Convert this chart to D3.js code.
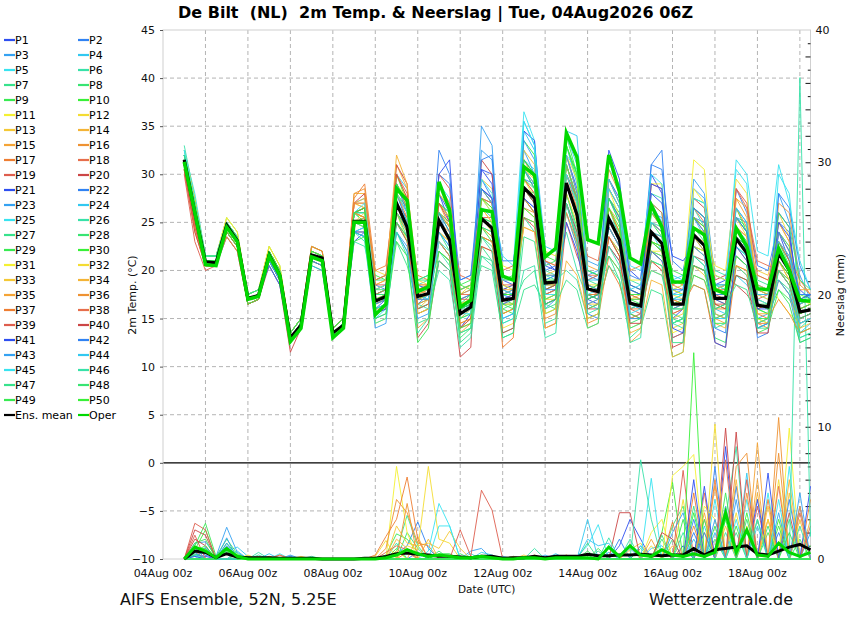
<!DOCTYPE html>
<html><head><meta charset="utf-8">
<script src="https://cdn.jsdelivr.net/npm/d3@7"></script>
<style>body{margin:0;background:#fff;} svg{display:block;font-family:"DejaVu Sans",sans-serif;}</style>
</head><body><div id="chart"></div>
<script>
// ---------------- DATA ----------------
const titleText = "De Bilt  (NL)  2m Temp. & Neerslag | Tue, 04Aug2026 06Z";
const footLeft = "AIFS Ensemble, 52N, 5.25E";
const footRight = "Wetterzentrale.de";
const tempTicks = [-10,-5,0,5,10,15,20,25,30,35,40,45];
const precipTicks = [0,10,20,30,40];
const xLabelDays = [0,2,4,6,8,10,12,14];
// lead hours after 04Aug2026 00z
const leadHours = [12,18,24,30,36,42,48,54,60,66,72,78,84,90,96,102,108,114,120,126,132,138,144,150,156,162,168,174,180,186,192,198,204,210,216,222,228,234,240,246,252,258,264,270,276,282,288,294,300,306,312,318,324,330,336,342,348,354,360,366];

const ensMeanTemp = [31.5,26,20.9,20.8,24.7,23.1,17.1,17.4,21.6,19.5,13.0,14.3,21.6,21.3,13.5,14.3,25.1,25.1,16.8,17.3,27.0,24.5,17.3,17.6,25.2,23.2,15.5,16.2,25.4,24.4,16.9,17.1,28.6,27.5,18.7,18.8,29.1,25.8,18.1,17.8,25.4,23.2,16.6,16.3,24.0,22.8,16.5,16.5,23.7,22.6,17.1,17.1,23.3,21.8,16.4,16.2,21.8,20.0,15.7,15.9];
const operTemp = [31.3,26,20.6,20.5,24.5,23,17,17.3,21.5,19.5,12.6,14,21.4,21,13,14,25,25,15.4,16.5,28.5,27.3,17.8,18.3,29.2,26.3,16.2,16.9,26.3,26.1,19.4,19.0,30.8,29.9,21.4,22.3,34.3,31.8,23.2,22.8,32.0,28.2,21.3,20.7,26.8,24.5,18.8,18.8,24.4,23.7,18.0,17.6,24.4,22.5,18.1,18.0,22.3,20.0,16.9,16.8];
const ensMeanPrecip = [0,0.6,0.5,0.1,0.4,0.15,0.1,0.1,0.1,0.05,0.05,0.05,0.05,0,0,0,0,0.05,0.05,0.2,0.4,0.45,0.35,0.3,0.2,0.2,0.15,0.1,0.2,0.2,0.05,0.1,0.1,0.2,0.1,0.2,0.2,0.2,0.35,0.25,0.25,0.3,0.3,0.35,0.3,0.25,0.3,0.3,0.8,0.3,0.7,0.8,0.9,1.0,0.4,0.3,0.6,0.9,1.1,0.7];
const operPrecip = [0,0.9,0.6,0.1,0.8,0.2,0,0,0,0,0,0,0,0,0,0,0,0,0,0.1,0.3,0.7,0.4,0.2,0.3,0.2,0.1,0.1,0.2,0.1,0,0,0.1,0.1,0,0.1,0.1,0.1,0.1,0,0.9,0.2,1.0,0.3,0.2,0.7,0.3,0.2,0.4,0.2,0.5,3.5,0.5,2.2,0.3,0.2,1.2,0.5,0.2,0.5];

// 2m temperature of members P1..P50
const memberTemp = [
[31.5,26,21,21,24.5,23,17,17.5,20.5,18.5,12.5,14,21.5,21,13.5,14.5, 24,24.5,16,17, 28,26,18.5,18, 28,25,14,15.5, 30.5,30,19,18.5, 30.5,28.5,21,20, 32,28.5,17,16.5, 29.5,27.5,20,19, 30,28,15,16, 26.5,25.5,18.5,19, 24.5,22,14,14.5, 24,21,18,17],
[32,27,21.5,21.5,24.5,23,17,17.5,21.5,19.5,13,14.5,21,20.5,13,14, 26,25.5,18.5,18, 29,27,16.5,17.5, 30,29,19,19.5, 29.5,27.5,15,15.5, 29.5,29,20,20.5, 27,23,19.5,19, 31.5,28,15,15.5, 31,30.5,21,20, 25.5,25,14,13.5, 28.5,26,20.5,20, 25,24,15,15.5],
[31,25,20.5,20.5,23.5,22,16.5,17,22,20,13.5,15,22.5,22,14,15, 25,25.5,15,15.5, 24,22.5,17.5,17, 26,23,17,17.5, 32.5,31.5,18,17.5, 32.5,30,16,17, 30,27.5,21,20.5, 25.5,24,18,17.5, 27,25,13,13.5, 28.5,27.5,18,18.5, 25.5,25,15,15.5, 28,25,19.5,17],
[31.5,26,21,21,25,23.5,17.5,18,21.5,19.5,13,14.5,22,21.5,14,15, 27,27.5,17.5,18, 30,28.5,16,16.5, 24,22.5,18,18.5, 27.5,26,17.5,17, 34.5,32.5,19,19.5, 33,29,16.5,16, 22.5,21,17.5,17, 24,23.5,19.5,19, 25.5,23.5,15.5,15, 19.5,18.5,17,16.5, 20,18.5,13.5,14.5],
[32.5,28,21.5,21.5,25.5,24,17.5,18,22,20,13.5,15,21.5,21,13.5,14.5, 26,26,19,19.5, 28,25,18,18.5, 29,27.5,15,16, 27.5,27,21.5,20.5, 36.5,33.5,18,18.5, 32,30.5,19,19.5, 30.5,29,16.5,16, 24,22,18,18.5, 21.5,21,19.5,19, 30.5,29,14.5,15, 30,28,16.5,17.5],
[33,27.5,21.5,21.5,24.5,23,17,17.5,21,19,12.5,14,21.5,21,13.5,14.5, 24,23.5,16.5,17, 25,23,18.5,19, 22,20.5,16,16.5, 25.5,25,13,13.5, 25.5,24,20,19.5, 24,20,17,17.5, 23.5,22,19,18.5, 28,27.5,16,16.5, 26.5,24.5,20,19.5, 22.5,21.5,18.5,18, 22,20.5,14,15],
[31.5,26,21,21,24,22.5,16.5,17,21.5,19.5,13,14.5,22.5,22,14,15, 25,24.5,18,18.5, 23,20.5,16.5,17, 23,21.5,12.5,13.5, 22.5,21,16,16.5, 19,20,14.5,15, 28,24,19,18.5, 21.5,19,13,14, 18,17.5,11,11.5, 23.5,22,16.5,16, 25.5,24.5,19,18.5, 19,18,13,13.5],
[32,27,21.5,21.5,25,23.5,17.5,18,22.5,20.5,13.5,15,21.5,21,13.5,14.5, 26,25,16,16.5, 27,25.5,19,19, 27,25.5,16.5,17.5, 23.5,23,18.5,18, 28.5,28,17.5,18, 31,27,20,19.5, 26.5,23.5,14.5,15, 21,20.5,17,17.5, 18.5,18,13,12.5, 21.5,20.5,16.5,16, 23,20.5,17,17.5],
[31,25,20.5,20.5,24.5,23,17,17.5,21.5,19.5,13,14.5,20.5,20,13,14, 25,25.5,17.5,17.5, 26,24,15.5,16, 21,20,13.5,14, 24.5,23,19,19.5, 31.5,30,15.5,16, 34,30,18.5,18, 27.5,26,17,16.5, 25,23.5,20,19.5, 27.5,27,17.5,17.5, 23.5,21.5,13.5,14, 18,17,15,15.5],
[31.5,26,21,21,24.5,23,17,17.5,21,19,12.5,14,22,21.5,14,15, 26,26.5,19.5,19, 30,27,17,17.5, 26,24.5,18.5,18, 28.5,27,16.5,16.5, 33.5,32,21.5,21, 33,29.5,16,16.5, 26.5,24,18.5,18, 26,24.5,14.5,15, 22.5,22,18.5,18, 26.5,24,16,15.5, 22,20,17.5,17],
[32,27,21.5,21.5,25.5,24,17.5,18,22,20,13.5,15,21.5,21,13.5,14.5, 25,24.5,14.5,15, 29,27.5,18,18.5, 25,23.5,15.5,16.5, 26.5,25.5,20.5,20, 27.5,26,18.5,19, 29,25.5,15,15.5, 28.5,25.5,17.5,17, 29,29,18,18.5, 31.5,30.5,16.5,16, 21.5,20.5,19.5,19, 17,15.5,14.5,15],
[31.5,26.5,21,21,25,23.5,17.5,18,22.5,20.5,13.5,15,22.5,22,14,15, 27,27,20,19.5, 28,26.5,17,17, 28,26.5,17.5,18.5, 25.5,24,14,14.5, 30.5,29.5,22,21.5, 26,22.5,18,18.5, 25.5,23,14,14.5, 22,21.5,17.5,17, 24.5,24,20.5,20, 29.5,28,17,16.5, 26,23.5,16,16.5],
[32.5,27.5,21.5,21.5,24.5,23,17,17.5,21.5,19.5,13,14.5,22,21.5,14,15, 26,25.5,17,17.5, 25,23.5,16,17, 24,23,14.5,15, 29.5,28.5,17.5,18, 28.5,27,19.5,20, 31,27.5,17.5,17, 23.5,21.5,17,17.5, 25,24.5,14,14.5, 20.5,19.5,17,16.5, 23.5,22,20,19.5, 24,22.5,15.5,16],
[31,25.5,21,21,24.5,23,17,17.5,22,20,13.5,15,22.5,22,14,15, 28,28,18,18.5, 31,28.5,19,19.5, 27,25.5,15,16, 23.5,23,17,17.5, 24.5,24,21,20.5, 29,26,14,14.5, 28.5,26.5,18,17.5, 20,19.5,16,16.5, 23.5,23,14.5,14, 27.5,26.5,18,17.5, 21,19.5,16.5,17],
[31.5,26,21,21,24,22.5,16.5,17,21,19,12.5,14,21.5,21,13.5,14.5, 24,24,16.5,17, 27,24.5,14,15, 27,24.5,17,17.5, 27.5,27,15.5,16, 31.5,29.5,18,18.5, 34,31.5,20.5,20, 26.5,25,12.5,13.5, 23,22,15.5,16, 19.5,19,15,14.5, 20.5,19.5,16,16.5, 20,19,13.5,14],
[30.5,24,20.5,20.5,24,22.5,16.5,17,21.5,19.5,13,14.5,21,20.5,13,14, 27,26.5,18.5,19, 26,24.5,18,17.5, 22,21,14,14.5, 26.5,25,18,18.5, 26.5,26,15,15.5, 32,28,18.5,18, 30.5,28,20,20.5, 26,24.5,17,16.5, 23.5,22,18,18.5, 26.5,24.5,14.5,14, 27,26,18.5,17.5],
[31.5,26,21,21,24.5,23,17,17.5,22,20,13.5,15,22.5,22,14,15, 27.5,29,20,20.5, 29,27,19.5,19, 23,21.5,16.5,17, 25.5,24.5,12,13, 29.5,28,18.5,19, 27,23.5,16,16.5, 20.5,18.5,15,15, 21,20,18.5,18, 25.5,24,15,15.5, 23.5,22.5,15.5,15, 23,21.5,19,17.5],
[31,25,20.5,20.5,24.5,23,17,17.5,21.5,19.5,13,14.5,21.5,21,13.5,14.5, 26,25.5,15.5,16, 27,25.5,17.5,18, 26,25,19.5,19, 28.5,27.5,16.5,17, 25.5,25,17,17.5, 30,26.5,21.5,21, 27.5,25.5,16,16.5, 29,28.5,19,18.5, 26.5,25,16,16.5, 28.5,26.5,21,20.5, 20,18.5,15,15.5],
[30,23,20,20.5,23.5,22,16.5,17,21.5,19.5,13,14.5,22,21.5,14,15, 25,25,18,18.5, 30,28,15.5,16, 30,28.5,18,18.5, 25.5,25.5,20,20.5, 27.5,26,14,14.5, 25,21.5,19,19.5, 24.5,22.5,17.5,17.5, 24,23,13,13.5, 21.5,21,17.5,17, 24.5,23.5,17,17.5, 25,23,14.5,15],
[30.5,24,20.5,20.5,24,22.5,16.5,17,20.5,18.5,11.5,14,21.5,21,13.5,14.5, 27,28,19,19.5, 31,29,13,14.5, 21,20,11,12, 31.5,30,19.5,19, 30.5,29,16.5,17, 29,25.5,17,17.5, 22.5,21,15.5,15, 23,22,12,12.5, 27.5,26.5,19,19.5, 18.5,17.5,16,16.5, 21,19,16.5,17],
[31.5,26,21,21,24.5,23,17,17.5,21.5,19.5,13,14.5,21,20.5,13,14, 23,24,17,17, 26,24.5,17.5,17.5, 28,26,16,17, 30.5,29,18,18.5, 34.5,33.5,20.5,20, 31,27.5,17.5,17, 32.5,29.5,18.5,18, 28,27,21.5,21, 22.5,21.5,17,16.5, 25.5,24,18.5,18, 26,24.5,15.5,16],
[32,27,21.5,21.5,24.5,23,17,17.5,20.5,18.5,12.5,14,21.5,21,13.5,14.5, 25,25,17.5,18, 28,25,18.5,18, 32.5,30,17,17.5, 28.5,27.5,21,21, 27.5,26.5,19,19.5, 30,27.5,15.5,15, 29.5,27,19.5,19, 31,32.5,16,16.5, 25.5,24,18,18.5, 23.5,22.5,13,13.5, 28,26.5,20.5,18],
[31.5,25.5,21,21,24,22.5,16.5,17,21,19,12.5,14,20.5,20,13,14, 24,23.5,14,14.5, 25,23.5,17,17.5, 27,26,15.5,16.5, 35,33,17.5,17, 28.5,27,18.5,19, 26,22.5,19.5,20, 24.5,22.5,16.5,16, 26,25.5,17.5,18, 29.5,28,19.5,19, 26.5,25,16.5,16, 19,17.5,12.5,13],
[32,27,21.5,21.5,25,23.5,17.5,18,21.5,19.5,13,14.5,21.5,21,13.5,14.5, 26,26,16.5,17, 27,24,16,16.5, 23,21.5,17.5,18, 26.5,26,18,17.5, 35.5,33,22.5,22, 34.5,34,20,19.5, 27.5,25,16,16.5, 22,21,19,19.5, 20.5,20,16,15.5, 24.5,23,17.5,17, 24,22,17.5,17.5],
[32.5,27,21.5,21.5,25,23.5,17.5,18,21.5,19.5,13,14.5,22,21.5,14,15, 24,24.5,15,16, 29,27,19,19.5, 25,23,16.5,16, 29.5,28,14.5,15, 31.5,30.5,17.5,18, 27,24,18.5,18, 28.5,26.5,20.5,20, 30,29,17,17.5, 24.5,23.5,18.5,18, 31.5,30,22,21.5, 31,27,21,18],
[32,27,21.5,21.5,24.5,23,17,17.5,22,20,13.5,15,21.5,21,13.5,14.5, 23,22.5,17.5,18, 24,22,16.5,16, 20,19,12,13, 21.5,20.5,15.5,16, 27.5,26,19.5,19, 20,19,15,15.5, 25.5,23,16,16.5, 20,19.5,14.5,14, 21.5,20.5,15.5,15, 20.5,19.5,14,14.5, 21,19.5,16,16.5],
[31.5,26,21,21,24.5,23,17,17.5,21.5,19.5,13,14.5,21,20.5,13,14, 24,23.5,19,19, 25,23,14.5,15, 24,22,16,16.5, 20.5,20,13.5,14, 18,18.5,16.5,16, 27,23,16,16.5, 20.5,19,14,14.5, 22,21.5,15.5,15, 24.5,23,18.5,18.5, 22.5,21.5,18,17.5, 24,22.5,13.5,14],
[32,27,21.5,21.5,25,23.5,17.5,18,22,20,13.5,15,21.5,21,13.5,14.5, 25,25,16,16.5, 28,26.5,17.5,17.5, 22,21,13,14, 23.5,22.5,17.5,17.5, 30.5,28.5,20.5,21, 33,30,17.5,17, 23.5,21.5,18,17.5, 27,26,14.5,15, 19.5,19,16,16.5, 23.5,22,15,14.5, 20,19,15.5,16],
[31.5,25.5,21,21,24,22.5,16.5,17,21.5,19.5,13,14.5,21.5,21,13.5,14.5, 26,25,17.5,18, 26,24.5,16,16.5, 27,26,18.5,19, 25.5,25,16,15.5, 25.5,25,18,18.5, 28,24.5,20,19.5, 27.5,25.5,15.5,15, 23,22.5,18,17.5, 23.5,22.5,14.5,14.5, 19.5,19,16,15.5, 18,16.5,12.5,13],
[31.5,26,21,21,24.5,23,17,17.5,22,20,13.5,15,22,21.5,14,15, 26,26.5,17.5,17.5, 29,26.5,17,17.5, 26,24,15,15.5, 24.5,23.5,17,16.5, 28.5,27,18.5,18.5, 30,27,17.5,17.5, 24.5,22.5,16.5,16.5, 24,23,16.5,17, 26.5,25.5,17.5,17.5, 25.5,24,16.5,16, 23,21,15.5,16],
[32,27,21.5,21.5,25.5,24,17.5,18,22.5,20.5,13.5,15,22,21.5,14,15, 26,25.5,17,17, 26,23,18.5,18.5, 23,22,16.5,17, 27.5,26,15.5,16, 29.5,27.5,17,17.5, 32,29.5,18.5,18, 25.5,23.5,19,19, 22,22,13.5,14, 28.5,27,19.5,19, 20.5,20,15,14.5, 21,19,17,16.5],
[31.5,26.5,21,21,25,23.5,17.5,18,21.5,19.5,13,14.5,21.5,21,13.5,14.5, 25,26,18,18.5, 30,27.5,19,18.5, 28,26.5,16,16, 26.5,25,18.5,18, 26.5,25.5,17,17, 28,25,18.5,18.5, 26.5,24,17,17, 25,24,18,17.5, 22.5,22,17.5,17.5, 25.5,23.5,17.5,17, 22,20,14.5,15],
[31,25,20.5,20.5,24,22.5,16.5,17,22,20,13.5,15,21.5,21,13.5,14.5, 27,26.5,16.5,17, 28,26,15.5,16, 24,23,18,18.5, 22.5,22,16.5,16.5, 32.5,31,15.5,16, 31,27.5,16.5,16.5, 23.5,22,17.5,17.5, 23,22.5,15,15.5, 25.5,24.5,18,18.5, 22.5,21,18.5,18, 25,23,16,16.5],
[31.5,26,21,21,24.5,23,17,17.5,21,19,12.5,14,22,21.5,14,15, 27,27.5,18.5,19, 32,29,17,17.5, 27,25.5,14,15, 27.5,26.5,17.5,18, 24.5,24,14,14.5, 21,19.5,15,15.5, 23.5,21.5,13.5,14, 19,18.5,11,11.5, 22.5,21.5,15.5,15, 24.5,23.5,15.5,15.5, 19,17.5,14,14.5],
[31,26,20.5,20.5,24.5,23,17,17.5,21.5,19.5,13,14.5,21,20.5,13,14, 25,25.5,17,17.5, 26,24,17.5,18, 25,24,13.5,14.5, 24.5,23.5,18,18, 30.5,30,19.5,19.5, 29,26.5,16.5,17, 29.5,27,17,17, 26,25,19,18.5, 20.5,20,17,17, 27.5,25.5,18,17.5, 24,22,18,18],
[31.5,25,21,21,23.5,22,16.5,17,21.5,19.5,13,14.5,21.5,21,13.5,14.5, 28,28.5,19,19.5, 27,25,16.5,17, 26,24.5,17.5,18, 28.5,27,19,19, 28.5,27.5,17.5,18, 26,23,14.5,15, 21.5,20,15,15.5, 24,23.5,17,16.5, 24.5,23.5,16,16, 21.5,20.5,14.5,15, 17,15.5,13.5,14],
[30.5,24.5,20.5,20.5,24,22.5,16.5,17,22,20,13.5,15,21.5,21,13.5,14.5, 26,25.5,16,16, 28,25.5,17.5,17.5, 23,21.5,14.5,15, 23.5,23,15.5,16, 27.5,26,18.5,18.5, 31,27.5,17.5,17.5, 26.5,24,16,16, 22,21,16.5,16.5, 18.5,18,12.5,12, 20.5,20,14.5,14.5, 22,20.5,15.5,16],
[31,25.5,20.5,20.5,24.5,23,17,17.5,21.5,19.5,13,14.5,22,21.5,14,15, 27,27,17.5,18, 29,26.5,18.5,18.5, 29,27,17.5,17.5, 27.5,27,18.5,18.5, 29.5,28,21,20.5, 30,27.5,19.5,19.5, 24.5,22.5,17.5,17, 27,26,18.5,19, 22.5,21.5,18,18, 23.5,22,17.5,17.5, 20,18.5,14.5,15],
[30.5,24.5,20.5,20.5,24,22.5,16.5,17,21.5,19.5,13,14.5,21.5,21,13.5,14.5, 26,26.5,18.5,18.5, 25,23,16,16.5, 25,23.5,17,17, 25.5,24.5,17,17.5, 25.5,24.5,17.5,18, 29,26,18,17.5, 28.5,26.5,16,15.5, 21,20,15.5,16, 25.5,24.5,16.5,16.5, 28.5,27,19.5,19, 23,21,16,16.5],
[30.5,25,20.5,20.5,24.5,23,17,17.5,21,19,12.5,14,21.5,21,13.5,14.5, 26,26.5,16.5,17, 30,27.5,18,18.5, 27,25,14,15, 22.5,22,13.5,14, 28.5,27,18,18.5, 27,24,16,16, 23.5,21.5,14.5,14.5, 25,24,16.5,16.5, 20.5,20,16.5,16, 19.5,19,13.5,13.5, 21,19.5,15,15.5],
[31.5,26,21,21,24.5,23,17,17.5,21,19,12.5,14,21.5,21,13.5,14.5, 24,24,15.5,16, 27,24.5,17.5,17.5, 30,31.5,16,16.5, 28.5,27.5,17,17.5, 27.5,26.5,16.5,17, 25,22,17,17.5, 25.5,23,18,17.5, 29,28.5,14,13.5, 23.5,22.5,12.5,12, 22.5,21,16,16, 25,23.5,17,17.5],
[32,25.5,21,21,24.5,23,17,17.5,21.5,19.5,13,14.5,21,20.5,13,14, 25,25,17,17, 29,26,17,17, 26,24,19,19.5, 31.5,32,16.5,17, 31.5,30,18,18, 29,25.5,18.5,18, 27.5,25.5,16.5,16.5, 22,21,18,18, 26.5,25.5,17.5,17.5, 25.5,24,16.5,16, 24,22,17.5,17.5],
[31.5,26,21,21,24.5,23,17,17.5,21.5,19.5,13,14.5,21.5,21,13.5,14.5, 24,23.5,16.5,17, 24,22,15,15.5, 24,22.5,15.5,16, 28.5,27,17.5,18, 33.5,31.5,19.5,19.5, 32,28,16.5,17, 24.5,22.5,15,15, 25,24,17,17, 24.5,23.5,18.5,18.5, 21.5,20.5,14,14.5, 19,17.5,14.5,15],
[32,26,21,21,24.5,23,17,17.5,21,19,12.5,14,21.5,21,13.5,14.5, 25,25,16,16.5, 27,25,18,18, 25,23.5,16,16, 26.5,25.5,15,15.5, 30.5,29,18.5,19, 34,31,19,19, 29.5,27,18,18.5, 24,23.5,16,16, 22.5,21.5,15,15, 26.5,25,17.5,17.5, 23,21.5,16.5,17],
[32.5,27,21.5,21.5,25,23.5,17.5,18,21.5,19.5,13,14.5,21.5,21,13.5,14.5, 26,27,18,18.5, 28,26,17.5,17, 23,22,15.5,15.5, 24.5,24,19,19, 35.5,33,17.5,17.5, 30,27,17.5,18, 28.5,26.5,15.5,16, 25,24.5,17.5,17.5, 27.5,27,18,17.5, 22.5,21.5,17,16.5, 22,20,14.5,15],
[32,26.5,21.5,21.5,24.5,23,17,17.5,22,20,13.5,15,22,21.5,14,15, 24,23,14.5,15, 24,21.5,13.5,15, 21,20,13.5,14, 23.5,22,14.5,15, 20,20.5,13,13.5, 27,23.5,15.5,16, 22.5,20.5,12.5,13, 26,25,14.5,15, 21.5,20.5,14,14.5, 23.5,22,14.5,15, 22,20,13,13.5],
[31.5,26,21,21,24.5,23,17,17.5,21.5,19.5,13,14.5,21.5,21,13.5,14.5, 25,24.5,17.5,17.5, 26,23.5,18,18, 25,23.5,15,15.5, 21.5,21,13,13.5, 23.5,23,16,16.5, 19,18,14,14.5, 25.5,23.5,16.5,16.5, 21,20.5,12.5,12.5, 23.5,22.5,16,16.5, 18.5,18,14,14, 20,18.5,15,15.5],
[32,27,21.5,21.5,25,23.5,17.5,18,21.5,19.5,13,14.5,21.5,21,13.5,14.5, 26,26,18,18, 25,23.5,19,19.5, 26,25,18,18.5, 25.5,24.5,17,17, 29.5,28.5,17,17.5, 31,27.5,18,18.5, 21.5,20,17,17, 23,22,15,14.5, 20.5,20,15,15.5, 23.5,22.5,16.5,16.5, 26,24.5,19,18],
[31.5,25.5,21,21,24,22.5,16.5,17,22,20,13.5,15,21.5,21,13.5,14.5, 23,23.5,15,15.5, 23,21.5,12.5,14, 22,21,14,14.5, 24.5,24,16.5,16, 26.5,25.5,16.5,17, 29,26,17,17.5, 27.5,25,17.5,17.5, 23,22,16,16, 24.5,23.5,17,17, 21.5,20.5,15,15, 21,19.5,16,16.5],
[31.5,26,21,21,24.5,23,17,17.5,21.5,19.5,13,14.5,22,21.5,14,15, 26,26.5,17,17.5, 29,27,18,18, 25,23.5,16,16.5, 27.5,26.5,17.5,17.5, 31.5,30,19,19, 33,30,18,18, 26.5,24.5,16.5,16.5, 23,22.5,16.5,16.5, 25.5,24.5,17,17, 24.5,23,16.5,16, 22,20,15.5,16]
];

// precipitation (mm) of members P1..P50, as [step index, value]; unlisted steps are 0
const memberPrecipPairs = [
[[1,0.3],[2,0.2],[41,1.0],[42,3.0],[43,1.5],[47,1.0],[51,8.5],[58,4.0]],
[[1,0.8],[2,0.3],[4,1.0],[10,0.2],[20,0.4],[21,1.0],[22,2.8],[23,0.8],[31,0.2],[41,1.5],[43,1.0],[48,3.0],[50,7.0],[56,2.0]],
[[1,1.2],[2,1.3],[3,0.2],[4,2.4],[5,0.5],[10,0.3],[27,0.6],[28,0.8],[30,0.2],[32,0.2],[34,0.3],[40,0.5],[42,0.8],[52,4.5],[59,2.0]],
[[4,0.6],[5,0.9],[6,0.2],[8,0.4],[28,0.5],[29,0.3],[35,0.4],[38,3.0],[44,0.8],[45,1.0],[49,2.5],[53,6.5]],
[[1,0.3],[9,0.4],[17,0.1],[23,0.6],[24,4.2],[25,2.5],[27,0.4],[37,0.2],[38,1.0],[39,2.6],[43,1.0],[50,4.5],[55,5.0],[57,7.0]],
[[1,0.2],[7,0.5],[12,0.2],[20,1.2],[33,0.8],[40,0.8],[42,1.5],[51,3.0],[52,8.5]],
[[1,0.5],[2,0.6],[6,0.2],[20,0.6],[21,3.3],[22,1.0],[38,1.2],[45,1.8],[53,2.0]],
[[1,0.3],[2,0.5],[4,0.6],[21,2.0],[22,0.8],[24,0.6],[26,0.4],[43,0.8],[46,2.5],[47,4.0],[50,1.5],[54,3.0]],
[[1,1.0],[2,2.7],[3,0.2],[4,1.5],[5,0.4],[19,0.3],[20,1.9],[21,1.5],[22,0.5],[24,0.4],[25,0.4],[39,0.8],[51,5.0],[55,2.0],[58,1.5]],
[[1,0.7],[2,2.2],[4,1.2],[5,0.3],[20,0.8],[45,2.0],[46,5.8],[48,3.5],[52,2.5],[56,3.0]],
[[20,7.0],[21,2.0],[31,0.2],[44,2.0],[45,3.0],[49,4.0],[50,3.0],[53,2.5],[57,9.9]],
[[6,0.3],[18,0.2],[19,1.4],[21,1.0],[22,0.7],[23,7.0],[24,1.5],[25,1.2],[36,0.2],[44,1.0],[47,4.5],[52,3.5],[56,6.0]],
[[11,0.2],[20,2.5],[21,1.2],[22,1.0],[23,1.2],[24,0.8],[25,2.1],[26,0.8],[32,0.3],[42,0.7],[43,1.2],[49,2.0],[55,4.0],[57,5.0]],
[[20,1.5],[21,0.8],[23,1.5],[42,1.0],[46,1.0],[51,4.0],[54,5.0],[59,3.0]],
[[22,1.7],[33,0.3],[44,1.5],[50,5.5],[54,6.0],[58,4.0]],
[[7,0.2],[19,0.8],[20,4.5],[21,3.5],[22,1.2],[23,1.0],[35,0.2],[49,3.0],[52,7.0],[53,8.0],[56,10.7]],
[[1,0.6],[8,0.2],[18,0.3],[19,1.7],[20,3.0],[21,6.2],[22,1.5],[36,0.3],[46,2.8],[48,5.0],[55,3.0],[59,4.5]],
[[9,0.3],[19,0.5],[20,1.0],[21,0.7],[49,5.0],[56,5.5]],
[[1,2.7],[2,2.2],[26,2.2],[27,0.2],[28,5.2],[29,3.7],[47,6.7],[54,4.0]],
[[1,2.2],[2,1.8],[41,3.5],[42,3.5],[45,0.7],[51,9.9],[57,3.5]],
[[1,0.2],[49,5.5],[54,4.5],[59,5.5]],
[[1,0.5],[4,0.7],[22,0.5],[48,2.0],[52,5.5]],
[[1,0.9],[4,1.6],[46,2.0],[47,3.5],[56,3.5]],
[[5,0.6],[38,1.5],[39,1.0],[40,1.2],[48,1.5],[50,2.0],[54,2.5]],
[[24,2.5],[25,2.5],[44,6.1],[53,4.5]],
[[7,0.3],[40,1.6],[43,7.5],[44,3.0],[51,2.0],[58,2.5]],
[[1,0.4],[39,0.6],[46,1.5],[52,2.0]],
[[5,0.3],[45,1.5],[49,3.0],[55,2.5],[57,3.0]],
[[1,1.2],[2,1.5],[4,0.8],[38,0.6],[47,3.0],[50,2.5],[56,2.5]],
[[1,0.8],[2,0.8],[4,0.6],[48,15.6],[51,3.0],[53,3.5],[59,1.0]],
[[20,0.6],[46,6.3],[47,7.0],[48,7.9]],
[[50,10.2],[55,3.0]],
[[51,2.5],[58,3.0]],
[[52,6.0],[57,6.0]],
[[49,3.5],[54,8.8]],
[[21,4.2],[48,2.5],[53,5.0],[56,8.0]],
[[21,0.5],[50,6.0],[55,4.5]],
[[9,0.3],[51,7.5],[58,3.5]],
[[1,1.8],[53,6.0],[59,2.5]],
[[1,1.5],[2,1.0],[45,2.0],[46,1.5],[52,9.6]],
[[48,6.0],[55,6.5]],
[[49,2.0],[57,4.5]],
[[2,0.9],[4,1.2],[50,3.0],[58,5.0]],
[[51,4.0]],
[[52,3.0],[56,4.5]],
[[47,2.0],[54,3.0],[58,36.4],[59,1.7]],
[[48,4.0]],
[[4,0.5],[53,3.0]],
[[1,0.6],[2,1.0],[4,0.9],[57,2.0]],
[[4,0.7]]
];

const memberNames = d3.range(1,51).map(i => "P" + i);
const palette = ["#2e4ff0","#3182f2","#35a2f2","#32c8f0","#38e3f0","#38e2a8","#38e28c","#38e472","#38ea52","#38f038","#f4f032","#f4dc32","#f4c836","#f4b436","#f4a436","#ee9232","#ee7e32","#e66e4c","#de5e4e","#cc4646"];
const meanColor = "#000000", operColor = "#00d800";

// ---------------- CHART ----------------
const W = 850, H = 620;
const L = 163, R = 810.5, T = 30, B = 559;
const svg = d3.select("#chart").append("svg").attr("width", W).attr("height", H);
const t0 = Date.UTC(2026, 7, 4, 0);
const hr = 3600e3;
const x = d3.scaleUtc().domain([new Date(t0), new Date(t0 + 366 * hr)]).range([L, R]);
const yT = d3.scaleLinear().domain([-10, 45]).range([B, T]);
const yP = d3.scaleLinear().domain([0, 40]).range([B, T]);
const times = leadHours.map(h => new Date(t0 + h * hr));
const memberPrecip = memberPrecipPairs.map(pairs => {
  const a = leadHours.map(() => 0);
  pairs.forEach(([i, v]) => { a[i] = v; });
  return a;
});

// grid
const grid = svg.append("g").attr("stroke", "#b4b4b4").attr("stroke-width", 1).attr("stroke-dasharray", "4,3").attr("fill", "none");
d3.utcDay.range(new Date(t0 + 24 * hr), new Date(t0 + 361 * hr)).forEach(d => {
  grid.append("line").attr("x1", x(d)).attr("x2", x(d)).attr("y1", T).attr("y2", B);
});
tempTicks.filter(v => v !== 0 && v !== -10 && v !== 45).forEach(v => {
  grid.append("line").attr("x1", L).attr("x2", R).attr("y1", yT(v)).attr("y2", yT(v));
});
svg.append("line").attr("x1", L).attr("x2", R).attr("y1", yT(0)).attr("y2", yT(0)).attr("stroke", "#000").attr("stroke-width", 1.2);
svg.append("rect").attr("x", L).attr("y", T).attr("width", R - L).attr("height", B - T).attr("fill", "none").attr("stroke", "#d0d0d0");

// axes
const leftAxis = svg.append("g").attr("transform", `translate(${L},0)`)
  .call(d3.axisLeft(yT).tickValues(tempTicks).tickSize(3).tickPadding(5));
leftAxis.select(".domain").remove();
leftAxis.selectAll("line").attr("stroke", "#555");
leftAxis.selectAll("text").attr("font-size", 11).attr("font-family", "DejaVu Sans").attr("fill", "#111");

const minorOdd = d3.range(1, 40, 2);
const minorEven = d3.range(2, 40, 2).filter(v => v % 10 !== 0);
const rightOdd = svg.append("g").attr("transform", `translate(${R},0)`)
  .call(d3.axisRight(yP).tickValues(minorOdd).tickSizeInner(-2.7).tickSizeOuter(0).tickFormat(""));
rightOdd.select(".domain").remove();
rightOdd.selectAll("line").attr("stroke", "#111");
const rightEven = svg.append("g").attr("transform", `translate(${R},0)`)
  .call(d3.axisRight(yP).tickValues(minorEven).tickSizeInner(-5).tickSizeOuter(0).tickFormat(""));
rightEven.select(".domain").remove();
rightEven.selectAll("line").attr("stroke", "#111");
const rightAxis = svg.append("g").attr("transform", `translate(${R},0)`)
  .call(d3.axisRight(yP).tickValues(precipTicks.filter(v => v < 40)).tickSizeInner(-5).tickSizeOuter(0).tickPadding(7));
rightAxis.select(".domain").remove();
rightAxis.selectAll("line").attr("stroke", "#111");
rightAxis.selectAll("text").attr("font-size", 11).attr("font-family", "DejaVu Sans").attr("fill", "#111");
svg.append("text").attr("x", R + 5).attr("y", yP(40)).attr("dy", "0.32em").attr("font-size", 11).attr("fill", "#111").text(String(precipTicks[precipTicks.length - 1]));

const fmt = d3.utcFormat("%d%b %Hz");
xLabelDays.forEach(dd => {
  const d = new Date(t0 + dd * 24 * hr);
  svg.append("text").attr("x", x(d)).attr("y", 577).attr("text-anchor", "middle")
    .attr("font-size", 11).attr("fill", "#111").text(fmt(d));
});
svg.append("text").attr("x", (L + R) / 2).attr("y", 593).attr("text-anchor", "middle").attr("font-size", 10.5).attr("fill", "#111").text("Date (UTC)");
svg.append("text").attr("transform", "translate(136,295) rotate(-90)").attr("text-anchor", "middle").attr("font-size", 11).attr("fill", "#111").text("2m Temp. (°C)");
svg.append("text").attr("transform", "translate(844,295) rotate(-90)").attr("text-anchor", "middle").attr("font-size", 11).attr("fill", "#111").text("Neerslag (mm)");

// lines
const lineT = d3.line().x((d, i) => x(times[i])).y(d => yT(d));
const lineP = d3.line().x((d, i) => x(times[i])).y(d => yP(d));
const plot = svg.append("g").attr("fill", "none");
memberPrecip.forEach((arr, k) => {
  plot.append("path").attr("d", lineP(arr)).attr("stroke", palette[k % 20]).attr("stroke-width", 0.9);
});
memberTemp.forEach((arr, k) => {
  plot.append("path").attr("d", lineT(arr)).attr("stroke", palette[k % 20]).attr("stroke-width", 0.9);
});
plot.append("path").attr("d", lineP(ensMeanPrecip)).attr("stroke", meanColor).attr("stroke-width", 3);
plot.append("path").attr("d", lineP(operPrecip)).attr("stroke", operColor).attr("stroke-width", 3);
plot.append("path").attr("d", lineT(ensMeanTemp)).attr("stroke", meanColor).attr("stroke-width", 3.2);
plot.append("path").attr("d", lineT(operTemp)).attr("stroke", operColor).attr("stroke-width", 3.5);

// legend
const legendItems = memberNames.map((n, k) => ({ name: n, color: palette[k % 20] }))
  .concat([{ name: "Ens. mean", color: meanColor }, { name: "Oper", color: operColor }]);
const lg = svg.append("g");
legendItems.forEach((it, k) => {
  const col = k % 2, row = Math.floor(k / 2);
  const lx = col === 0 ? 4 : 78, ly = 40 + row * 15;
  lg.append("line").attr("x1", lx).attr("x2", lx + 11).attr("y1", ly).attr("y2", ly).attr("stroke", it.color).attr("stroke-width", 2.2);
  lg.append("text").attr("x", lx + 11).attr("y", ly + 4).attr("font-size", 11).attr("fill", "#000").text(it.name);
});

// title and footer
svg.append("text").attr("x", 178).attr("y", 18).attr("font-size", 16).attr("font-weight", "bold")
  .style("white-space", "pre").attr("fill", "#000").text(titleText);
svg.append("text").attr("x", 120).attr("y", 605).attr("font-size", 16).attr("fill", "#111").text(footLeft);
svg.append("text").attr("x", 793).attr("y", 605).attr("text-anchor", "end").attr("font-size", 16).attr("fill", "#111").text(footRight);
</script>
</body></html>
